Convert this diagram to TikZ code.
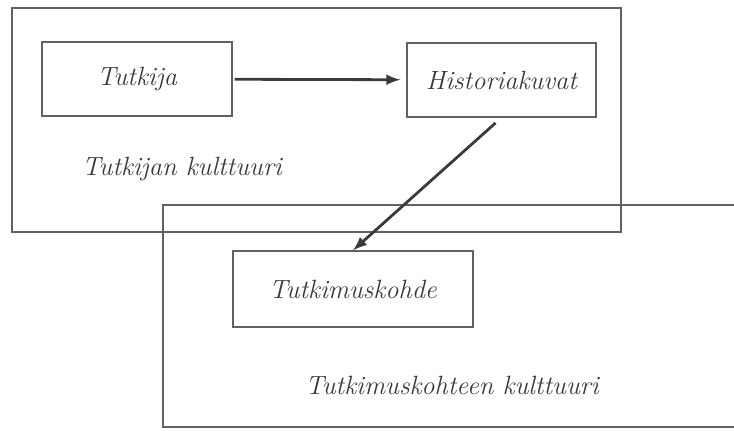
\documentclass[tikz,border=0pt]{standalone}
\usepackage{tikz}
\usetikzlibrary{arrows,positioning}
\definecolor{ink}{HTML}{3A3A3A}
\tikzset{
  box/.style={draw=ink!80, line width=0.6pt, minimum width=95pt, minimum height=37pt,
    font=\itshape\fontsize{13.2}{16}\selectfont, text=ink},
  lbl/.style={font=\itshape\fontsize{13.2}{16}\selectfont, text=ink},
  flow/.style={->, >=latex, line width=1.4pt, draw=ink}
}

\begin{document}
\begin{tikzpicture}[x=0.5pt,y=-0.5pt]
      \useasboundingbox (0,0) rectangle (734,430);
      \clip (0,0) rectangle (734,430);

      % researcher's culture
      \node[draw=ink!80, line width=0.6pt, minimum width=304.5pt, minimum height=112pt] at (316.5,120) (tk) {};
      \node[box] at (137,79) (tutkija) {Tutkija};
      \node[box, minimum width=94.5pt] at (501.5,80) (historia) {Historiakuvat};
      \node[lbl] at (182,169) (tkl) {Tutkijan kulttuuri};

      % culture of the object (runs off to the right)
      \draw[draw=ink!80, line width=0.6pt] (740,205) -| (163,427) -- (740,427);
      \node[box, minimum width=120pt, minimum height=38pt] at (353,289) (kohde) {Tutkimuskohde};
      \node[lbl] at (452,385) (kohdel) {Tutkimuskohteen kulttuuri};

      \draw[flow, shorten <=1pt, shorten >=3pt] (tutkija)--(historia);
      \draw[flow, shorten <=4pt] (historia.south)--(kohde.north);
\end{tikzpicture}
\end{document}
